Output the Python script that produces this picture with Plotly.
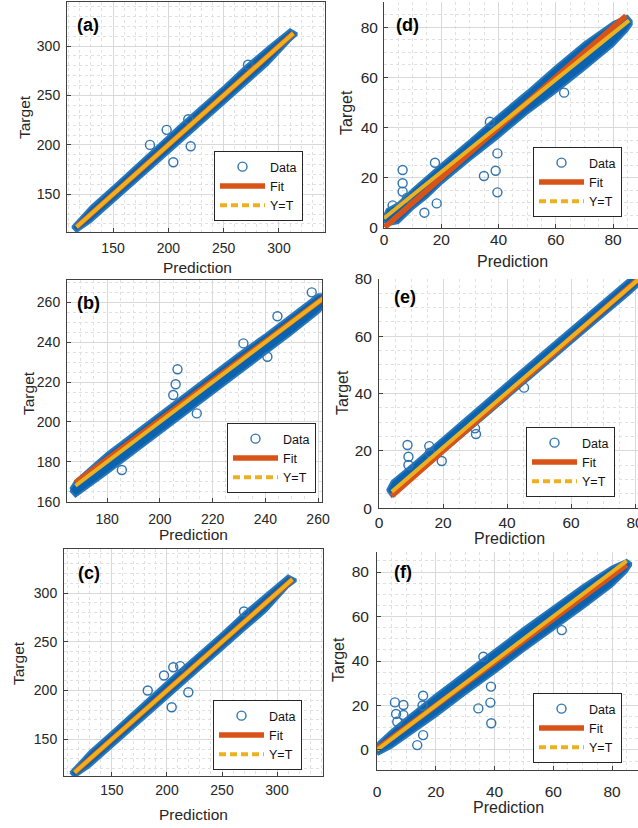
import plotly.graph_objects as go

# ---------------- data ----------------
panel_labels = ["(a)", "(b)", "(c)", "(d)", "(e)", "(f)"]

# (a)
a_band_pred = [113, 117, 130, 150, 170, 190, 210, 230, 250, 270, 290, 310, 316]
a_band_upper = [117, 122, 138, 158, 179, 199, 219.5, 239, 259, 280, 299, 317, 313]
a_band_lower = [117, 112, 122, 141.5, 161.5, 181.5, 201.5, 221.5, 241.5, 261.5, 281, 305, 311]
a_out_pred = [183.4, 198.5, 204.5, 220.2, 218.0, 272.0]
a_out_target = [200.0, 215.2, 182.4, 198.6, 226.0, 281.0]
a_fit_pred = [117, 313]
a_fit_target = [117, 313]
a_yt_pred = [117, 313]
a_yt_target = [117, 313]

# (b)
b_band_pred = [166, 168, 180, 190, 200, 210, 220, 230, 240, 250, 260, 263]
b_band_upper = [166.5, 170.5, 184.5, 194.5, 204.5, 214.5, 224.5, 234.5, 244, 254, 264, 264]
b_band_lower = [165.5, 162.5, 174, 184, 194, 204, 214, 224, 234, 244, 254.5, 258.5]
b_out_pred = [206.7, 206.0, 205.1, 214.0, 240.8, 231.7, 244.6, 257.6, 185.6]
b_out_target = [226.4, 218.9, 213.5, 204.3, 232.7, 239.4, 253.0, 265.0, 175.9]
b_fit_pred = [168, 263]
b_fit_target = [169.5, 263]
b_yt_pred = [168, 263]
b_yt_target = [168, 263]

# (c)
c_band_pred = [112, 116, 130, 150, 170, 190, 210, 230, 250, 270, 290, 310, 317]
c_band_upper = [116, 121, 138, 158, 179, 199, 219.5, 239, 259, 280, 299, 318, 314]
c_band_lower = [116, 111, 122, 141.5, 161.5, 181.5, 201.5, 221.5, 241.5, 261.5, 281, 306, 312]
c_out_pred = [182.5, 197.3, 205.7, 204.3, 219.4, 212.0, 270.0]
c_out_target = [200.0, 215.4, 223.9, 182.9, 198.3, 225.0, 281.0]
c_fit_pred = [116, 314]
c_fit_target = [116, 314]
c_yt_pred = [116, 314]
c_yt_target = [116, 314]

# (d)
d_band_pred = [-0.5, 1, 5, 10, 15, 20, 30, 40, 50, 60, 70, 80, 85, 86.5]
d_band_upper = [3.5, 7.5, 10, 15.5, 20.5, 25.5, 35, 45, 54.5, 64.5, 74, 82, 84.5, 82.5]
d_band_lower = [3.5, 1, 2, 7.5, 12, 17.5, 27, 36, 45.5, 54, 63, 72.5, 78.5, 81]
d_out_pred = [6.5, 6.5, 6.5, 17.8, 18.4, 14.1, 34.9, 39.0, 39.6, 39.6, 62.9, 37.0, 8.0, 3.0]
d_out_target = [23.1, 17.8, 14.5, 26.0, 9.8, 6.1, 20.7, 22.8, 29.7, 14.2, 53.9, 42.3, 12.0, 9.0]
d_fit_pred = [0.3, 84.5]
d_fit_target = [0.3, 84.5]
d_yt_pred = [0.0, 85.6]
d_yt_target = [3.9, 82.7]

# (e)
e_band_pred = [2.5, 4, 10, 20, 30, 40, 50, 60, 70, 78, 82]
e_band_upper = [6.3, 9.5, 15, 24.8, 34.3, 43.9, 53.4, 63.2, 72.5, 80, 83]
e_band_lower = [6.3, 4, 9.7, 19.3, 28.8, 38.4, 47.9, 57.5, 67, 74.5, 78.5]
e_out_pred = [8.9, 9.2, 9.2, 15.7, 19.6, 30.3, 30.0, 15.9, 45.3]
e_out_target = [22.1, 18.0, 15.1, 21.7, 16.5, 25.9, 27.9, 19.4, 42.1]
e_fit_pred = [4.0, 82.0]
e_fit_target = [4.3, 81.0]
e_yt_pred = [4.0, 82.0]
e_yt_target = [5.8, 80.8]

# (f)
f_band_pred = [-0.8, 0.5, 5, 10, 20, 30, 40, 50, 60, 70, 80, 85, 86.5]
f_band_upper = [0.3, 3.5, 9, 14.5, 25, 35, 45, 55, 64.5, 74, 82.5, 85.5, 84]
f_band_lower = [0.3, -2, 1, 5.5, 15, 25, 34.5, 44.5, 54, 63.5, 73.5, 80, 83]
f_out_pred = [6.1, 9.0, 6.5, 9.0, 6.9, 13.7, 15.7, 15.7, 34.5, 38.6, 38.8, 38.9, 62.9, 36.2, 15.5]
f_out_target = [21.4, 20.2, 16.2, 15.7, 12.7, 2.2, 6.7, 24.4, 18.7, 21.3, 28.5, 12.0, 53.9, 41.9, 20.0]
f_fit_pred = [0.0, 85.0]
f_fit_target = [0.5, 83.2]
f_yt_pred = [0.0, 85.0]
f_yt_target = [0.0, 85.0]

x_ranges = [[108.4, 341.6], [164.8, 261.5], [106.4, 341.8], [0, 88.7], [0, 80.9], [0, 88.85]]
y_ranges = [[111.9, 344.5], [160, 271.2], [112.4, 345.1], [0, 90], [0, 80], [-9, 89]]
major_dt = [50, 20, 50, 20, 20, 20]
minor_dt = [10, 5, 10, 5, 5, 5]

# ---------------- layout (pixels of the 638x828 page) ----------------
W, H = 638, 828
# axes boxes: left, right, top, bottom (px)
boxes = [(67, 325, 2, 232), (67, 322, 280, 501.7), (64, 323, 549, 776),
         (384, 638, 2, 228), (379, 638, 279, 508.3), (377, 638, 552, 770)]
legend_rb = [(303, 221), (316, 493), (302, 770), (622, 217), (615, 497), (622, 763)]
label_xy = [(88, 25), (88, 303), (89, 573), (407, 25), (405, 297), (403, 572)]
ytitle_xy = [(25, 117), (28, 393), (18, 663), (347, 113), (342, 393), (338, 660)]
xtitle_xy = [(197, 267), (193, 534), (193, 814), (512, 261), (510, 538), (508, 807)]
xstand = [3, 4, 1, -3, 0, 7]
ystand = [3, 3, 3, 2, 3, 4]

FONT = "Liberation Sans, Arial, sans-serif"
DARK = "#262626"
BAND = "#0b63b0"
CIRC = "#2f74b0"
FITC = "#D95319"
YTC = "#EDB120"

panels = [
    (a_band_pred, a_band_upper, a_band_lower, a_out_pred, a_out_target, a_fit_pred, a_fit_target, a_yt_pred, a_yt_target),
    (b_band_pred, b_band_upper, b_band_lower, b_out_pred, b_out_target, b_fit_pred, b_fit_target, b_yt_pred, b_yt_target),
    (c_band_pred, c_band_upper, c_band_lower, c_out_pred, c_out_target, c_fit_pred, c_fit_target, c_yt_pred, c_yt_target),
    (d_band_pred, d_band_upper, d_band_lower, d_out_pred, d_out_target, d_fit_pred, d_fit_target, d_yt_pred, d_yt_target),
    (e_band_pred, e_band_upper, e_band_lower, e_out_pred, e_out_target, e_fit_pred, e_fit_target, e_yt_pred, e_yt_target),
    (f_band_pred, f_band_upper, f_band_lower, f_out_pred, f_out_target, f_fit_pred, f_fit_target, f_yt_pred, f_yt_target),
]

fig = go.Figure()
layout = dict(width=W, height=H, margin=dict(l=0, r=0, t=0, b=0, autoexpand=False),
              paper_bgcolor="white", plot_bgcolor="white", showlegend=True,
              font=dict(family=FONT, color=DARK))
annotations = []

for i, (bp, bu, bl, op, ot, fp, ft, yp, yt) in enumerate(panels):
    n = i + 1
    xa = "x" if n == 1 else f"x{n}"
    ya = "y" if n == 1 else f"y{n}"
    lg = "legend" if n == 1 else f"legend{n}"
    left, right, top, bottom = boxes[i]
    right_col = i >= 3
    tick_size = 15.5 if right_col else 14
    title_size = 16 if right_col else 15.5

    # dense band of data circles
    fig.add_trace(go.Scatter(x=list(bp) + list(bp)[::-1], y=list(bu) + list(bl)[::-1],
                             mode="lines", fill="toself", fillcolor=BAND,
                             line=dict(color="#2a78b8", width=2), showlegend=False,
                             hoverinfo="skip", xaxis=xa, yaxis=ya))
    # individual data circles
    fig.add_trace(go.Scatter(x=op, y=ot, mode="markers", name="Data",
                             marker=dict(symbol="circle-open", size=9, color=CIRC,
                                         line=dict(width=1.4, color=CIRC)),
                             legend=lg, legendrank=1, xaxis=xa, yaxis=ya))
    fig.add_trace(go.Scatter(x=fp, y=ft, mode="lines", name="Fit",
                             line=dict(color=FITC, width=5.5), legend=lg, legendrank=2,
                             xaxis=xa, yaxis=ya))
    fig.add_trace(go.Scatter(x=yp, y=yt, mode="lines", name="Y=T",
                             line=dict(color=YTC, width=4), showlegend=False,
                             xaxis=xa, yaxis=ya))
    fig.add_trace(go.Scatter(x=[None], y=[None], mode="lines", name="Y=T",
                             line=dict(color=YTC, width=4, dash="7px,4px"),
                             legend=lg, legendrank=3, xaxis=xa, yaxis=ya))

    axis_common = dict(showline=True, linecolor="#404040", linewidth=1, automargin=False,
                       showgrid=True, gridcolor="#d9d9d9", gridwidth=1,
                       zeroline=False, ticks="inside", ticklen=4, tickcolor="#404040",
                       tickfont=dict(size=tick_size, family=FONT, color=DARK),
                       ticklabeloverflow="allow",
                       dtick=major_dt[i], tick0=0,
                       minor=dict(dtick=minor_dt[i], showgrid=True, gridcolor="#e0e0e0",
                                  griddash="dot", gridwidth=1, ticks=""))
    layout["xaxis" if n == 1 else f"xaxis{n}"] = dict(
        axis_common, domain=[left / W, right / W], range=x_ranges[i], anchor=ya,
        mirror=not right_col, ticklabelstandoff=xstand[i])
    layout["yaxis" if n == 1 else f"yaxis{n}"] = dict(
        axis_common, domain=[1 - bottom / H, 1 - top / H], range=y_ranges[i], anchor=xa,
        mirror=not right_col, ticklabelstandoff=ystand[i])
    lx, ly = legend_rb[i]
    layout[lg] = dict(x=lx / W, y=1 - ly / H, xanchor="right", yanchor="bottom",
                      bgcolor="white", bordercolor=DARK, borderwidth=1,
                      font=dict(size=12.5, family=FONT, color="#111111"),
                      itemwidth=45, tracegroupgap=0)
    px, py = label_xy[i]
    annotations.append(dict(x=px / W, y=1 - py / H, xref="paper", yref="paper",
                            xanchor="center", yanchor="middle",
                            text=f"<b>{panel_labels[i]}</b>", showarrow=False,
                            font=dict(size=18, family=FONT, color="#000000")))
    tx, ty = ytitle_xy[i]
    annotations.append(dict(x=tx / W, y=1 - ty / H, xref="paper", yref="paper",
                            xanchor="center", yanchor="middle",
                            text="Target", textangle=-90, showarrow=False,
                            font=dict(size=title_size, family=FONT, color=DARK)))
    tx, ty = xtitle_xy[i]
    annotations.append(dict(x=tx / W, y=1 - ty / H, xref="paper", yref="paper",
                            xanchor="center", yanchor="middle",
                            text="Prediction", showarrow=False,
                            font=dict(size=title_size, family=FONT, color=DARK)))

layout["annotations"] = annotations
fig.update_layout(**layout)
fig.write_html("out.html", config={"displayModeBar": False},
               post_script="document.body.style.margin='0';document.body.style.overflow='hidden';")
